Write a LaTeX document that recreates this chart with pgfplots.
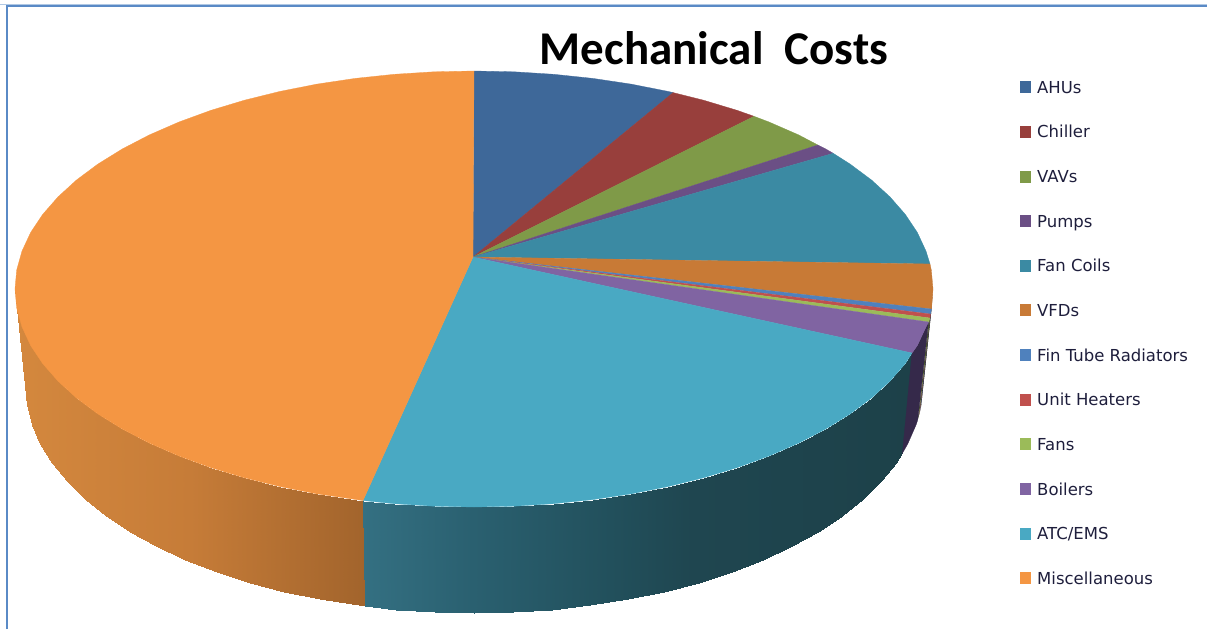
\documentclass[border=0pt]{standalone}
\usepackage{fontspec}
\usepackage{pgfplots}
\pgfplotsset{compat=1.18}
\setmainfont{DejaVu Sans}
\newfontfamily\titlefont{Carlito}[BoldFont=Carlito Bold]
\definecolor{cAHU}{RGB}{62,104,153}
\definecolor{cChiller}{RGB}{152,63,60}
\definecolor{cVAV}{RGB}{127,154,72}
\definecolor{cPumps}{RGB}{107,79,133}
\definecolor{cFan}{RGB}{59,138,163}
\definecolor{cVFD}{RGB}{200,122,54}
\definecolor{cFin}{RGB}{79,129,189}
\definecolor{cUH}{RGB}{192,80,77}
\definecolor{cFans}{RGB}{155,187,89}
\definecolor{cBoil}{RGB}{128,100,162}
\definecolor{cATC}{RGB}{73,169,195}
\definecolor{cMisc}{RGB}{244,150,67}
\definecolor{legtext}{RGB}{30,30,60}
\definecolor{frameA}{RGB}{176,200,228}
\definecolor{frameB}{RGB}{90,138,198}
\definecolor{sVFD}{RGB}{92,58,28}
\definecolor{sFin}{RGB}{31,53,80}
\definecolor{sUH}{RGB}{90,36,34}
\definecolor{sFans}{RGB}{74,90,40}
\definecolor{sBoil}{RGB}{53,41,74}
\begin{document}
\begin{tikzpicture}
\begin{axis}[
  scale only axis, width=1207pt, height=629pt,
  xmin=0, xmax=1207, ymin=0, ymax=629, y dir=reverse,
  hide axis,
  colormap={orangeside}{rgb255(0cm)=(212,136,62); rgb255(5cm)=(198,124,56); rgb255(10cm)=(162,100,44)},
  colormap={tealside}{rgb255(0cm)=(52,112,130); rgb255(2cm)=(42,96,112); rgb255(4.5cm)=(34,80,92); rgb255(6cm)=(31,70,80); rgb255(10cm)=(29,65,73)},
  legend cell align=left,
  legend style={at={(axis cs:1020,81)}, anchor=north west, draw=none, fill=none,
    font=\fontsize{16.5pt}{18pt}\selectfont\color{legtext},
    inner sep=0pt, row sep=29.65pt,
    nodes={inner sep=0pt, text height=10pt, text depth=3pt},
    /tikz/every odd column/.append style={column sep=6pt}},
  legend image code/.code={\fill[#1,draw=none] (0pt,-3.5pt) rectangle (11pt,8.5pt);},
]
% frame
\addplot[forget plot, color=frameA, line width=1.2pt] coordinates {(0,4.6) (1207,4.6)};
\addplot[forget plot, color=frameB, line width=2pt] coordinates {(7,629) (7,6) (1207,6)};
% side walls
\addplot[forget plot, patch, patch type=rectangle, shader=interp, point meta=x, point meta rel=per plot, colormap name=orangeside] coordinates {
(363,500.5)(317,493.9)(320.4,599.2)(365.4,606.2)
(317,493.9)(280,486.6)(284.2,591.6)(320.4,599.2)
(280,486.6)(244.5,477.8)(249.5,582.5)(284.2,591.6)
(244.5,477.8)(210.7,467.6)(216.5,571.8)(249.5,582.5)
(210.7,467.6)(179,456)(185.4,559.7)(216.5,571.8)
(179,456)(149.4,443.1)(156.5,546.2)(185.4,559.7)
(149.4,443.1)(122.4,429.1)(130,531.6)(156.5,546.2)
(122.4,429.1)(98,414)(106.2,515.8)(130,531.6)
(98,414)(76.5,398)(85.2,499)(106.2,515.8)
(76.5,398)(58,381.1)(67.1,481.4)(85.2,499)
(58,381.1)(42.7,363.6)(52.1,463)(67.1,481.4)
(42.7,363.6)(30.6,345.4)(40.3,444)(52.1,463)
(30.6,345.4)(22,326.9)(31.8,424.6)(40.3,444)
(22,326.9)(16.7,308)(26.7,404.9)(31.8,424.6)
(16.7,308)(15,289)(25,385)(26.7,404.9)
};
\addplot[forget plot, patch, patch type=rectangle, shader=interp, point meta=x, point meta rel=per plot, colormap name=tealside] coordinates {
(363,500.5)(394.3,503.7)(396,609.5)(365.4,606.2)
(394.3,503.7)(434,506.2)(434.9,612.1)(396,609.5)
(434,506.2)(474,507)(474,613)(434.9,612.1)
(474,507)(514,506.2)(513.1,612.1)(474,613)
(514,506.2)(553.7,503.7)(552,609.5)(513.1,612.1)
(553.7,503.7)(592.8,499.6)(590.2,605.2)(552,609.5)
(592.8,499.6)(631,493.9)(627.6,599.2)(590.2,605.2)
(631,493.9)(668,486.6)(663.8,591.6)(627.6,599.2)
(668,486.6)(703.5,477.8)(698.5,582.5)(663.8,591.6)
(703.5,477.8)(737.3,467.6)(731.5,571.8)(698.5,582.5)
(737.3,467.6)(769,456)(762.6,559.7)(731.5,571.8)
(769,456)(798.6,443.1)(791.5,546.2)(762.6,559.7)
(798.6,443.1)(825.6,429.1)(818,531.6)(791.5,546.2)
(825.6,429.1)(850,414)(841.8,515.8)(818,531.6)
(850,414)(871.5,398)(862.8,499)(841.8,515.8)
(871.5,398)(890,381.1)(880.9,481.4)(862.8,499)
(890,381.1)(905.3,363.6)(895.9,463)(880.9,481.4)
(905.3,363.6)(912,353)(902.4,453.2)(895.9,463)
};
\addplot[forget plot, fill=sVFD, draw=none] coordinates {(931.5,309)(933,289)(923,385)(921.1,406.1)(931.5,309)};
\addplot[forget plot, fill=sFin, draw=none] coordinates {(931.5,309)(930.5,314)(920,411.2)(921.1,406.1)(931.5,309)};
\addplot[forget plot, fill=sUH, draw=none] coordinates {(930.5,314)(930,318)(919,415.2)(920,411.2)(930.5,314)};
\addplot[forget plot, fill=sFans, draw=none] coordinates {(930,318)(928.5,322)(917.8,419.5)(919,415.2)(930,318)};
\addplot[forget plot, fill=sBoil, draw=sBoil, line width=.3pt] coordinates {(928.5,322)(926,326.9)(917.4,345.4)(912,353)(902.4,453.2)(907.7,444)(916.2,424.6)(917.8,419.5)(928.5,322)};
% top faces
\addplot[fill=cAHU, draw=cAHU, line width=.3pt] coordinates {(473,257)(474,71)(514,71.8)(553.7,74.3)(592.8,78.4)(631,84.1)(668,91.4)(673.1,92.6)(473,257)};
\addlegendentry{AHUs}
\addplot[fill=cChiller, draw=cChiller, line width=.3pt] coordinates {(473,257)(673.1,92.6)(703.5,100.2)(737.3,110.4)(754,116.3)(473,257)};
\addlegendentry{Chiller}
\addplot[fill=cVAV, draw=cVAV, line width=.3pt] coordinates {(473,257)(754,116.3)(769,122)(798.6,134.9)(817.8,145)(473,257)};
\addlegendentry{VAVs}
\addplot[fill=cPumps, draw=cPumps, line width=.3pt] coordinates {(473,257)(817.8,145)(825.6,148.9)(833.2,153.3)(473,257)};
\addlegendentry{Pumps}
\addplot[fill=cFan, draw=cFan, line width=.3pt] coordinates {(473,257)(833.2,153.3)(850,164)(871.5,180)(890,196.9)(905.3,214.4)(917.4,232.6)(926,251.1)(930,264)(473,257)};
\addlegendentry{Fan Coils}
\addplot[fill=cVFD, draw=cVFD, line width=.3pt] coordinates {(473,257)(930,264)(931.3,270)(933,289)(931.5,309)(473,257)};
\addlegendentry{VFDs}
\addplot[fill=cFin, draw=cFin, line width=.2pt] coordinates {(473,257)(931.5,309)(930.5,314)(473,257)};
\addlegendentry{Fin Tube Radiators}
\addplot[fill=cUH, draw=cUH, line width=.2pt] coordinates {(473,257)(930.5,314)(930,318)(473,257)};
\addlegendentry{Unit Heaters}
\addplot[fill=cFans, draw=cFans, line width=.2pt] coordinates {(473,257)(930,318)(928.5,322)(473,257)};
\addlegendentry{Fans}
\addplot[fill=cBoil, draw=cBoil, line width=.3pt] coordinates {(473,257)(928.5,322)(926,326.9)(917.4,345.4)(912,353)(473,257)};
\addlegendentry{Boilers}
\addplot[fill=cATC, draw=cATC, line width=.3pt] coordinates {(473,257)(912,353)(905.3,363.6)(890,381.1)(871.5,398)(850,414)(825.6,429.1)(798.6,443.1)(769,456)(737.3,467.6)(703.5,477.8)(668,486.6)(631,493.9)(592.8,499.6)(553.7,503.7)(514,506.2)(474,507)(434,506.2)(394.3,503.7)(363,500.5)(473,257)};
\addlegendentry{ATC/EMS}
\addplot[fill=cMisc, draw=cMisc, line width=.3pt] coordinates {(473,257)(363,500.5)(317,493.9)(280,486.6)(244.5,477.8)(210.7,467.6)(179,456)(149.4,443.1)(122.4,429.1)(98,414)(76.5,398)(58,381.1)(42.7,363.6)(30.6,345.4)(22,326.9)(16.7,308)(15,289)(16.7,270)(22,251.1)(30.6,232.6)(42.7,214.4)(58,196.9)(76.5,180)(98,164)(122.4,148.9)(149.4,134.9)(179,122)(210.7,110.4)(244.5,100.2)(280,91.4)(317,84.1)(355.2,78.4)(394.3,74.3)(434,71.8)(474,71)(473,257)};
\addlegendentry{Miscellaneous}
\node[font=\titlefont\bfseries\fontsize{47pt}{50pt}\selectfont, anchor=base, inner sep=0pt] at (axis cs:714,64) {Mechanical\ \ Costs};
\path (axis cs:0,0) rectangle (axis cs:1207,629);
\end{axis}
\end{tikzpicture}
\end{document}
